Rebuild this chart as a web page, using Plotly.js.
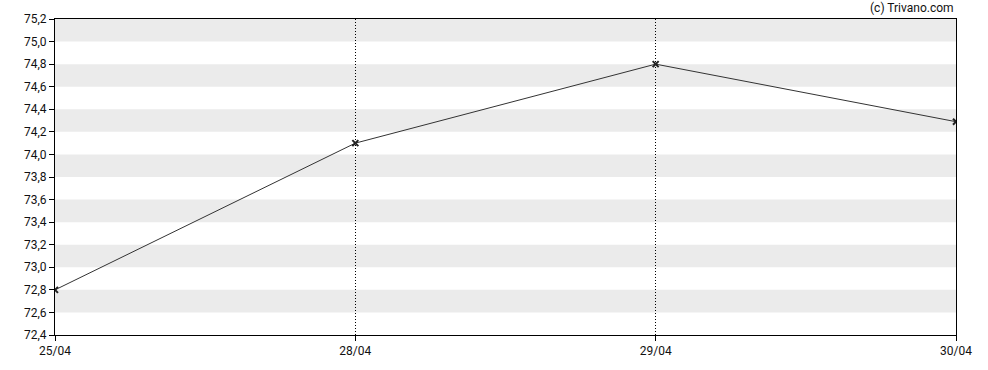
<!DOCTYPE html>
<html>
<head>
<meta charset="utf-8">
<script src="https://cdn.plot.ly/plotly-3.0.1.min.js"></script>
<style>html,body{margin:0;padding:0;background:#fff;}#chart{width:988px;height:370px;}</style>
</head>
<body>
<div id="chart"></div>
<script>
const dates = ['25/04', '28/04', '29/04', '30/04'];
const prices = [72.8, 74.1, 74.8, 74.29];
const bandStarts = [72.6, 73.0, 73.4, 73.8, 74.2, 74.6, 75.0];
const bandHeight = 0.2;

const shapes = bandStarts.map(b => ({
  type: 'rect', xref: 'paper', yref: 'y', x0: 0, x1: 1, y0: b, y1: b + bandHeight,
  fillcolor: '#ebebeb', line: {width: 0}, layer: 'below'
}));

const trace = {
  x: dates, y: prices, type: 'scatter', mode: 'lines+markers',
  line: {color: '#333333', width: 1},
  marker: {symbol: 'x-thin', size: 6, color: '#222', line: {color: '#222', width: 2}},
  hoverinfo: 'skip'
};

const layout = {
  width: 988, height: 370,
  margin: {l: 55, r: 32, t: 19, b: 35},
  paper_bgcolor: '#fff', plot_bgcolor: '#fff',
  separators: ',.',
  font: {family: 'Roboto, Arial, sans-serif', size: 12, color: '#111'},
  showlegend: false,
  xaxis: {
    type: 'category', range: [0, 3],
    showgrid: true, gridcolor: '#000', griddash: '1px,2px', gridwidth: 1,
    showline: true, linecolor: '#000', linewidth: 1, mirror: true,
    ticks: 'outside', ticklen: 5, tickcolor: '#000',
    zeroline: false, fixedrange: true
  },
  yaxis: {
    range: [72.4, 75.2], dtick: 0.2, tick0: 72.4, tickformat: '.1f',
    showgrid: false,
    showline: true, linecolor: '#000', linewidth: 1, mirror: true,
    ticks: 'outside', ticklen: 5, tickcolor: '#000',
    zeroline: false, fixedrange: true
  },
  shapes: shapes,
  annotations: [{
    text: '(c) Trivano.com', xref: 'paper', yref: 'paper', x: 1, y: 1,
    xanchor: 'right', yanchor: 'bottom', yshift: 2, showarrow: false,
    font: {size: 12, color: '#111'}
  }]
};

Plotly.newPlot('chart', [trace], layout, {displayModeBar: false, staticPlot: true});
</script>
</body>
</html>
